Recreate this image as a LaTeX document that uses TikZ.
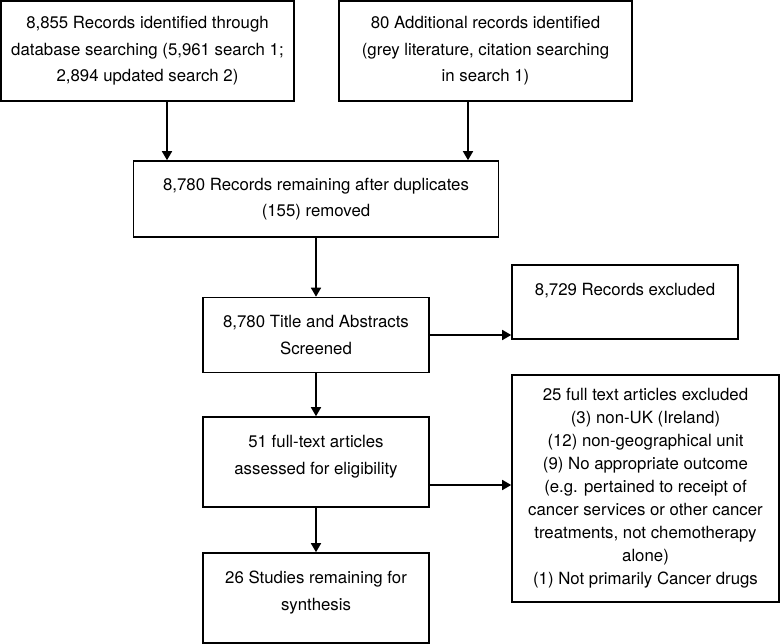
\documentclass[tikz,border=0pt]{standalone}
\usepackage{fontspec}
\setmainfont{TeX Gyre Heros}
\usetikzlibrary{positioning}
\usetikzlibrary{arrows.meta}
\tikzset{ %boxes and arrows of the flow chart
  flowbox/.style={
    draw=black, line width=1.6pt, rectangle, align=center, inner sep=0pt,
    font=\fontsize{16.8}{26.5}\selectfont
  },
  flowarrow/.style={line width=1.6pt, -{Triangle[length=9pt,width=10pt]}}
}

\begin{document}
\begin{tikzpicture}[x=1pt,y=-1pt] % one unit is one pixel of the chart
\useasboundingbox (0,0) rectangle (780,644);

\node [flowbox, minimum width=293pt, minimum height=100pt] (ident) at (147.5,51)
  {8,855 Records identified through\\database searching (5,961 search 1;\\2,894 updated search 2)};
\node [flowbox, minimum width=293pt, minimum height=100pt] (addit) at (485.5,51)
  {80 Additional records identified\\(grey literature, citation searching\\in search 1)};
\node [flowbox, minimum width=365pt, minimum height=76pt] (dedup) at (316,199)
  {8,780 Records remaining after duplicates\\(155) removed};
\node [flowbox, minimum width=226pt, minimum height=75pt] (screen) at (316,335)
  {8,780 Title and Abstracts\\Screened};
\node [flowbox, minimum width=226pt, minimum height=74pt, text depth=26pt] (excl) at (625,302)
  {8,729 Records excluded};
\node [flowbox, minimum width=226pt, minimum height=90pt, text depth=14pt] (elig) at (316,462)
  {51 full-text articles\\assessed for eligibility};
\node [flowbox, minimum width=267pt, minimum height=227pt,
       font=\fontsize{16.8}{23}\selectfont] (fullexcl) at (645.5,488.5)
  {25 full text articles excluded\\(3) non-UK (Ireland)\\(12) non-geographical unit\\
   (9) No appropriate outcome\\(e.g. pertained to receipt of\\cancer services or other cancer\\
   treatments, not chemotherapy\\alone)\\(1) Not primarily Cancer drugs};
\node [flowbox, minimum width=226pt, minimum height=90pt, text depth=15pt] (synth) at (316,598)
  {26 Studies remaining for\\synthesis};

% arrows
\draw [flowarrow] ([xshift=19.5pt]ident.south) -- ([xshift=19.5pt]ident.south |- dedup.north);
\draw [flowarrow] ([xshift=-17.5pt]addit.south) -- ([xshift=-17.5pt]addit.south |- dedup.north);
\draw [flowarrow] (dedup) -- (screen);
\draw [flowarrow] (screen.east) -- (screen.east -| excl.west);
\draw [flowarrow] (screen) -- (elig);
\draw [flowarrow] ([yshift=-23pt]elig.east) -- ([yshift=-23pt]elig.east -| fullexcl.west);
\draw [flowarrow] (elig) -- (synth);
\end{tikzpicture}
\end{document}
